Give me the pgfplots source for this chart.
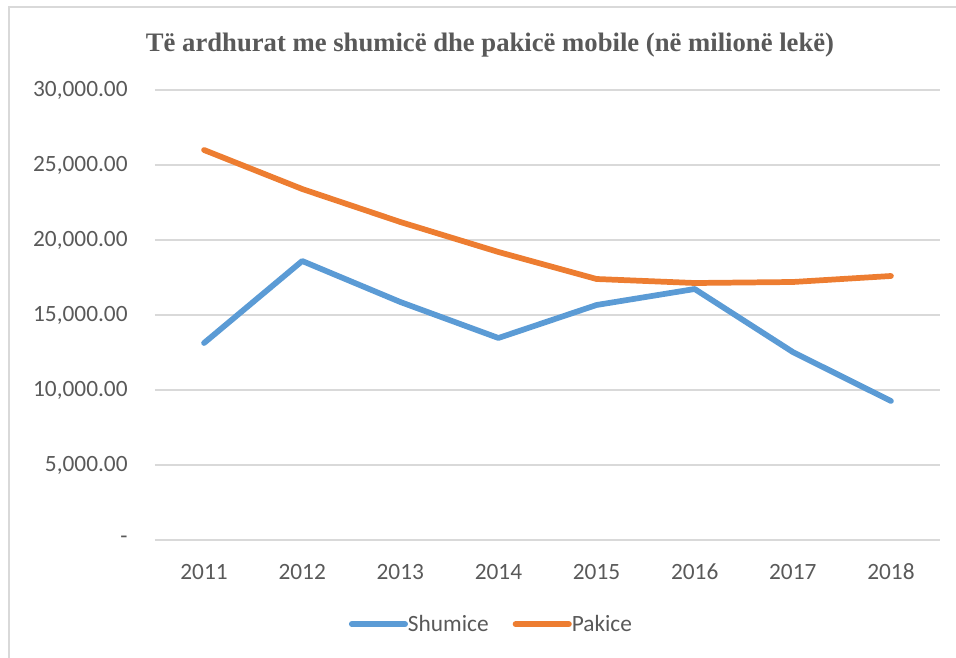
\documentclass[border=0pt]{standalone}
\usepackage{pgfplots}
\pgfplotsset{compat=1.18}
\usepackage{fontspec}
\setmainfont{Carlito}
\newfontfamily\titlefont{Liberation Serif}
\definecolor{cblue}{HTML}{5B9BD5}
\definecolor{corange}{HTML}{ED7D31}
\definecolor{tgray}{HTML}{595959}
\definecolor{ggray}{HTML}{D9D9D9}
\begin{document}
\begin{tikzpicture}
\begin{axis}[
  scale only axis, width=588.75pt, height=337.5pt,
  xmin=-0.5, xmax=7.5, ymin=0, ymax=30000,
  xtick={0,...,7},
  xticklabels={2011,2012,2013,2014,2015,2016,2017,2018},
  ytick={0,5000,10000,15000,20000,25000,30000},
  yticklabels={-,{5,000.00},{10,000.00},{15,000.00},{20,000.00},{25,000.00},{30,000.00}},
  scaled y ticks=false,
  axis line style={draw=none},
  major tick length=0pt,
  ymajorgrids, grid style={ggray,line width=1.2pt},
  tick label style={text=tgray,font=\fontsize{17.5}{20}\selectfont},
  xticklabel style={yshift=-14pt,text height=12pt,text depth=0pt},
  yticklabel style={xshift=-17pt},
  legend style={at={(0.429,-0.187)},anchor=center,draw=none,fill=none,font=\fontsize{17.5}{20}\selectfont,text=tgray,legend columns=2,/tikz/every even column/.append style={column sep=16pt},/tikz/every odd column/.append style={column sep=-2pt}},
  legend image code/.code={\draw[#1,line cap=round] (0pt,0pt) -- (40pt,0pt);},
  clip=false,
]
\addplot[cblue,line width=4.3pt,line join=round,line cap=round] coordinates {
(0,13133) (1,18600) (2,15867) (3,13467) (4,15667) (5,16733) (6,12533) (7,9267)};
\addlegendentry{Shumice}
\addplot[corange,line width=4.3pt,line join=round,line cap=round] coordinates {
(0,26000) (1,23400) (2,21200) (3,19200) (4,17400) (5,17133) (6,17200) (7,17600)};
\addlegendentry{Pakice}
\coordinate (bbSW) at (axis description cs:-0.19745,-0.26);
\coordinate (bbNE) at (axis description cs:1.02038,1.2);
\coordinate (brL) at (axis description cs:-0.1862,-0.3);
\coordinate (brT) at (axis description cs:-0.1862,1.1844);
\coordinate (brR) at (axis description cs:1.05,1.1844);
\node[text=tgray,font=\titlefont\bfseries\fontsize{20}{24}\selectfont] at (axis description cs:0.42675,1.1) {Të ardhurat me shumicë dhe pakicë mobile (në milionë lekë)};
\end{axis}
\draw[ggray,line width=1.5pt] (brL) -- (brT) -- (brR);
\pgfresetboundingbox
\useasboundingbox (bbSW) rectangle (bbNE);
\end{tikzpicture}
\end{document}
